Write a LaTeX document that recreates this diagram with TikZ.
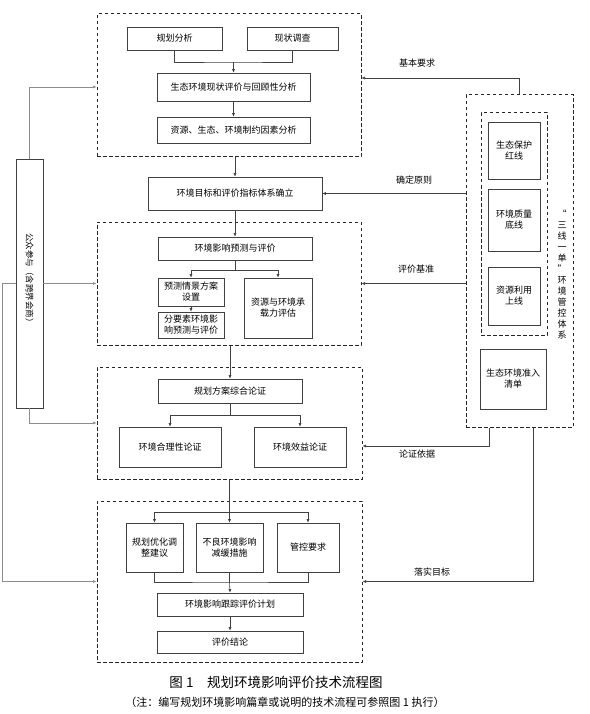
\documentclass[tikz,border=0pt]{standalone}
\usepackage{fontspec}
\setmainfont{Noto Sans CJK SC}
\usetikzlibrary{arrows.meta,positioning}

\begin{document}
\begin{tikzpicture}[x=1pt,y=-1pt,
    box/.style n args={2}{draw=black!75,line width=0.6pt,align=center,inner sep=1pt,
      minimum width=#1pt,minimum height=#2pt,font=\fontsize{9}{11}\selectfont},
    grp/.style n args={2}{draw=black!85,line width=1pt,dash pattern=on 3.5pt off 2.5pt,
      minimum width=#1pt,minimum height=#2pt},
    ln/.style={draw=black!75,line width=0.6pt},
    arr/.style={ln,-{Latex[length=3.5pt,width=3pt]}},
    garr/.style={arr,draw=black!45},
    lbl/.style={font=\fontsize{9}{11}\selectfont}]
  \useasboundingbox (0,0) rectangle (589,714);

  % dashed groups
  \node[grp={264}{143}] (grpA) at (229,85.5) {};
  \node[grp={264}{123}] (grpB) at (229,283.5) {};
  \node[grp={265}{112}] (grpC) at (229.5,423) {};
  \node[grp={265}{161}] (grpD) at (229.5,581.5) {};
  \node[grp={107}{332}] (sys) at (519.5,261) {};
  \node[grp={66}{222}] (sysIn) at (514,224) {};

  % main flow
  \node[box={95}{23}] (plan) at (174.5,38.5) {规划分析};
  \node[box={91}{23}] (survey) at (292.5,38.5) {现状调查};
  \node[box={153}{28}] (status) at (233.5,87) {生态环境现状评价与回顾性分析};
  \node[box={153}{26}] (constr) at (233.5,130) {资源、生态、环境制约因素分析};
  \node[box={174}{33}] (goal) at (235,193.5) {环境目标和评价指标体系确立};
  \node[box={154}{23}] (pred) at (235,248.5) {环境影响预测与评价};
  \node[box={66}{28}] (scen) at (191,292) {预测情景方案\\设置};
  \node[box={66}{26}] (elem) at (191,325) {分要素环境影\\响预测与评价};
  \node[box={68}{60}] (capa) at (278,308) {资源与环境承\\载力评估};
  \node[box={144}{24}] (synth) at (230,391) {规划方案综合论证};
  \node[box={102}{40}] (rational) at (170,447) {环境合理性论证};
  \node[box={92}{40}] (benefit) at (300,447) {环境效益论证};
  \node[box={57}{49}] (optim) at (154.5,547.5) {规划优化调\\整建议};
  \node[box={67}{49}] (mitig) at (229.5,547.5) {不良环境影响\\减缓措施};
  \node[box={62}{49}] (ctrl) at (308,547.5) {管控要求};
  \node[box={146}{23}] (track) at (230,604.5) {环境影响跟踪评价计划};
  \node[box={146}{22}] (concl) at (230,642) {评价结论};

  % public participation
  \node[box={27}{249}] (public) at (29.5,283.5) {};
  \node[font=\fontsize{8.5}{10}\selectfont,rotate=-90] (publicTxt) at (29.5,280) {公众参与（含跨界会商）};

  % three lines one list
  \node[box={52}{57}] (red) at (514,150.5) {生态保护\\红线};
  \node[box={52}{62}] (quality) at (514,220) {环境质量\\底线};
  \node[box={52}{58}] (resource) at (514,296) {资源利用\\上线};
  \node[box={66}{60}] (access) at (513,379) {生态环境准入\\清单};
  \node[align=center,inner sep=0pt,font=\fontsize{9}{11}\selectfont] (sysTxt) at (562,274.5)
    {“\\三\\线\\一\\单\\”\\环\\境\\管\\控\\体\\系};

  % connectors
  \coordinate (mergeA) at (233.5,62);
  \draw[ln] (plan.south) |- (mergeA) -| (survey.south);
  \draw[arr] (mergeA) -- (status.north);
  \draw[arr] (status) -- (constr);
  \draw[arr] (goal.north |- grpA.south) -- (goal.north);
  \draw[arr] (goal) -- (pred);
  \coordinate (splitB) at (235,270);
  \draw[ln] (pred.south) -- (splitB);
  \foreach \t in {scen,capa} \draw[arr] (splitB) -| (\t.north);
  \draw[arr] (scen) -- (elem);
  \draw[arr] (synth.north |- grpB.south) -- (synth.north);
  \coordinate (splitC) at (230,415);
  \draw[ln] (synth.south) -- (splitC);
  \foreach \t in {rational,benefit} \draw[arr] (splitC) -| (\t.north);
  \draw[arr] (mitig.north |- grpC.south) -- (mitig.north);
  \coordinate (splitD) at (229.5,512);
  \foreach \t in {optim,ctrl} \draw[arr] (splitD) -| (\t.north);
  \coordinate (mergeD) at (229.5,582);
  \draw[ln] (optim.south) |- (mergeD) -| (ctrl.south);
  \draw[ln] (mitig.south) -- (mergeD);
  \draw[arr] (mergeD) -- (track.north);
  \draw[arr] (track) -- (concl);

  % left side
  \draw[garr] (public.north) |- ([yshift=-1.5pt]grpA.west);
  \draw[garr] (public.east) -- (grpB.west);
  \draw[garr] (public.south) |- (grpC.west);
  \draw[garr] (public.west) -- ++(-13,0) |- (grpD.west);

  % right side
  \draw[arr] (sys.north) |- ([yshift=7.5pt]grpA.east);
  \node[lbl] (lblReq) at (417,63) {基本要求};
  \draw[arr] (sys.west |- goal.east) -- (goal.east);
  \node[lbl] (lblPrin) at (414,180) {确定原则};
  \draw[arr] (sys.west |- grpB.east) -- (grpB.east);
  \node[lbl] (lblBase) at (416,269) {评价基准};
  \draw[arr] ([xshift=-30.5pt]sys.south) |- ([yshift=-23pt]grpC.east);
  \node[lbl] (lblProof) at (417,454) {论证依据};
  \draw[arr] ([xshift=13.5pt]sys.south) |- (grpD.east);
  \node[lbl] (lblGoal) at (432,572) {落实目标};

  % caption
  \node[font=\fontsize{13.5}{15}\selectfont] (caption) at (276,682) {图 1\quad 规划环境影响评价技术流程图};
  \node[font=\fontsize{11}{13}\selectfont] (note) at (285,702) {（注：编写规划环境影响篇章或说明的技术流程可参照图 1 执行）};
\end{tikzpicture}
\end{document}
